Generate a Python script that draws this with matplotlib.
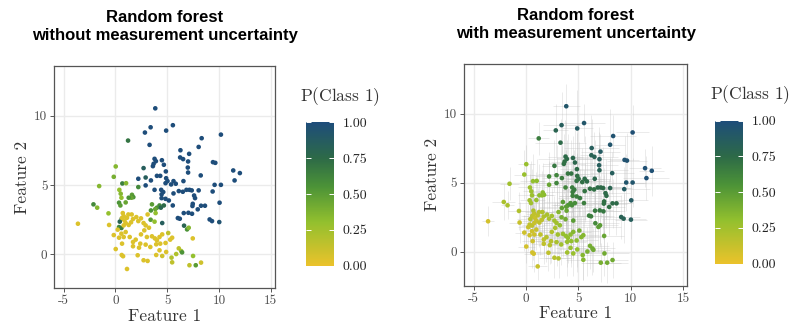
import matplotlib
matplotlib.use("Agg")
from matplotlib import pyplot as plt
from matplotlib.colors import LinearSegmentedColormap, Normalize
import matplotlib.cm as cm
import numpy as np

plt.rcParams['font.family'] = ['cmr10', 'DejaVu Serif']
plt.rcParams['axes.unicode_minus'] = False
plt.rcParams['mathtext.fontset'] = 'cm'

# point positions (same for both panels)
feat1 = [3.85, 3.40, 2.85, 5.55, 4.90, 3.30, 1.22, 10.19, 8.33, 8.04,
         6.28, 7.12, 6.25, 6.54, 3.78, 3.91, 3.69, 3.62, 4.49, 4.68,
         2.72, 7.02, 6.99, 7.02, 9.42, 9.65, 11.38, 12.02, 11.51, 4.87,
         2.92, 2.21, 4.01, 4.33, 4.90, 5.03, 4.84, 5.61, 5.83, 5.38,
         3.43, 2.92, 6.57, 8.24, 9.58, 10.19, 6.86, 7.15, 7.37, 6.51,
         6.12, 3.78, 4.42, 4.62, 4.46, 5.61, 7.60, 7.69, 8.04, 9.39,
         4.84, 5.16, 4.46, 5.54, 7.47, 7.44, 7.95, 8.27, 8.65, 10.06,
         6.03, 6.22, 6.60, 7.05, 9.10, 9.33, 10.03, 6.63, 4.52, 7.40,
         4.26, 4.01, 4.39, 3.53, 3.85, 4.68, 3.43,
         0.03, -0.16, 0.67, 1.03, -1.57, 0.38, 0.51, 0.58, 1.60, 1.73, 1.54, 1.28, 2.21,
         -2.12, -1.76, 0.35, 0.48, 0.99, -0.67, 0.61, 0.42, 0.35, 0.58, 3.40, 3.78, 3.88,
         6.92, 7.08, 7.47, 5.48, 5.29,
         -3.62, -0.61, 0.71, 0.80, 0.64, 0.87, 0.99, 0.80, 1.28, 1.51, 1.12, 1.25, 1.57,
         1.70, 2.02, 2.21, 2.47, 2.72, 2.92, 3.24, 3.11,
         -0.16, 0.58, 0.80, 0.99, 0.35, 0.22, 1.38, 1.70, 1.96, 2.47, 2.79, 3.04, 3.53,
         3.81, 4.01, 4.26, 4.52, 5.10,
         0.03, 0.64, 0.61, 0.74, 1.70, 2.40, 2.28, 2.92, 3.37, 3.94, 4.33, 4.84, 4.26, 4.90,
         2.15, 2.72, 3.11, 3.94, 4.52, 1.12, 5.42, 5.48, 6.12, 6.35, 6.44, 7.15, 7.76,
         8.27, 7.50, 5.87]
feat2 = [10.55, 9.18, 8.80, 9.33, 8.94, 7.91, 8.22, 8.65, 8.39, 7.76,
         7.52, 7.26, 7.00, 6.88, 6.90, 6.73, 6.54, 6.37, 6.80, 6.47,
         6.23, 6.71, 6.27, 5.91, 6.66, 6.61, 6.06, 5.87, 5.34, 5.99,
         5.55, 5.46, 5.67, 5.67, 5.50, 5.29, 5.14, 5.29, 5.10, 5.05,
         5.34, 4.98, 5.29, 5.70, 5.02, 5.02, 4.66, 4.66, 4.62, 4.52,
         4.57, 4.66, 4.66, 4.50, 4.33, 4.40, 4.25, 4.06, 4.62, 4.54,
         4.01, 3.89, 4.06, 3.53, 3.65, 3.49, 3.25, 3.51, 3.51, 3.73,
         2.62, 2.57, 2.98, 3.00, 2.52, 2.40, 2.33, 2.07, 2.26, 2.93,
         3.53, 3.37, 3.37, 3.61, 3.27, 3.53, 3.17,
         6.35, 5.60, 5.12, 5.14, 4.93, 4.66, 4.38, 4.09, 4.30, 4.13, 4.09, 4.09, 4.86,
         3.61, 3.37, 3.73, 3.53, 3.75, 2.96, 2.57, 2.36, 1.97, 1.90, 2.50, 2.36, 2.98,
         1.80, 1.92, 1.15, 1.20, 1.06,
         2.21, 2.12, 2.98, 2.76, 2.62, 2.45, 2.26, 2.09, 2.12, 2.31, 2.64, 2.88, 2.88,
         2.55, 2.69, 2.40, 2.60, 2.26, 2.09, 1.92, 2.88,
         1.39, 1.49, 1.25, 1.61, 1.20, 1.78, 1.25, 0.89, 1.06, 1.44, 1.73, 1.25, 1.30,
         1.15, 1.01, 1.25, 1.44, 1.54,
         0.38, 0.77, -0.05, -0.14, 0.58, 0.77, 0.48, 0.70, 0.53, 0.72, 0.77, 0.82, 0.29, 0.17,
         -0.07, -0.43, -0.48, -0.05, -0.12, -1.06, -0.24, -0.58, 0.43, 0.24, 0.14, -0.79, -0.79,
         -0.60, -0.12, 0.02]

# P(Class 1) without uncertainty
p_plain = [1, 1, 1, 1, 1, 1, 0.7, 1, 1, 1,
           1, 1, 1, 1, 1, 1, 1, 1, 1, 1,
           0.85, 1, 1, 1, 1, 1, 1, 1, 1, 1,
           0.85, 1, 1, 1, 1, 1, 1, 1, 1, 1,
           1, 1, 1, 1, 1, 1, 1, 1, 1, 1,
           1, 1, 1, 1, 1, 1, 1, 1, 1, 1,
           1, 1, 1, 1, 1, 1, 1, 1, 1, 1,
           1, 1, 1, 1, 1, 1, 0.95, 0.8, 0.85, 1,
           0.6, 0.55, 0.8, 0.5, 0.45, 0.75, 0.55,
           0.35, 0.4, 0.65, 0.35, 0.35, 0.3, 0.35, 0.3, 0.5, 0.55, 0.45, 0.55, 0.6,
           0.6, 0.35, 0.55, 0.5, 0.45, 0.3, 0.75, 0.8, 0.6, 0.65, 0.5, 0.3, 0.3,
           0.55, 0.35, 0.05, 0.05, 0.05,
           0.05, 0.05, 0.05, 0.05, 0.05, 0.05, 0.05, 0.05, 0.05, 0.05, 0.05, 0.05, 0.05,
           0.05, 0.05, 0.05, 0.05, 0.05, 0.05, 0.05, 0.05,
           0.05, 0.05, 0.05, 0.05, 0.05, 0.05, 0.05, 0.05, 0.05, 0.05, 0.05, 0.05, 0.05,
           0.05, 0.05, 0.05, 0.05, 0.15,
           0.05, 0.05, 0.05, 0.05, 0.05, 0.05, 0.05, 0.05, 0.05, 0.05, 0.05, 0.05, 0.05, 0.05,
           0.05, 0.05, 0.05, 0.05, 0.1, 0.05, 0.2, 0.15, 0.15, 0.25, 0.55, 0.15, 0.5,
           0.1, 0.3, 0.2]

# P(Class 1) with uncertainty
p_unc = [0.92, 0.85, 0.8, 0.92, 0.88, 0.75, 0.65, 0.97, 0.95, 0.93,
         0.85, 0.88, 0.82, 0.82, 0.75, 0.75, 0.73, 0.72, 0.78, 0.78,
         0.68, 0.85, 0.85, 0.82, 0.95, 0.95, 0.97, 0.97, 0.97, 0.75,
         0.62, 0.6, 0.68, 0.7, 0.72, 0.72, 0.7, 0.75, 0.75, 0.73,
         0.65, 0.62, 0.78, 0.85, 0.93, 0.93, 0.75, 0.75, 0.75, 0.72,
         0.72, 0.62, 0.65, 0.67, 0.66, 0.7, 0.75, 0.75, 0.8, 0.88,
         0.65, 0.67, 0.64, 0.65, 0.72, 0.72, 0.72, 0.75, 0.75, 0.88,
         0.65, 0.65, 0.67, 0.68, 0.82, 0.82, 0.85, 0.6, 0.5, 0.68,
         0.55, 0.55, 0.58, 0.5, 0.5, 0.58, 0.48,
         0.28, 0.28, 0.3, 0.32, 0.25, 0.27, 0.27, 0.27, 0.33, 0.33, 0.32, 0.32, 0.45,
         0.22, 0.22, 0.25, 0.25, 0.28, 0.2, 0.18, 0.18, 0.15, 0.15, 0.4, 0.42, 0.45,
         0.5, 0.5, 0.45, 0.35, 0.35,
         0.08, 0.12, 0.2, 0.15, 0.15, 0.12, 0.12, 0.12, 0.15, 0.15, 0.15, 0.18, 0.2,
         0.2, 0.22, 0.22, 0.25, 0.25, 0.25, 0.3, 0.35,
         0.1, 0.1, 0.1, 0.12, 0.1, 0.12, 0.15, 0.15, 0.18, 0.2, 0.22, 0.25, 0.28,
         0.3, 0.3, 0.32, 0.35, 0.4,
         0.08, 0.1, 0.08, 0.08, 0.15, 0.18, 0.18, 0.22, 0.25, 0.28, 0.3, 0.32, 0.28, 0.3,
         0.15, 0.18, 0.2, 0.25, 0.28, 0.12, 0.35, 0.35, 0.4, 0.42, 0.42, 0.4, 0.42,
         0.42, 0.42, 0.38]

# measurement uncertainty (half-widths)
err1 = [1.3, 1.8, 1.2, 2.0, 1.5, 2.4, 1.0, 1.6, 2.2, 1.4,
        2.6, 1.9, 1.1, 2.3, 1.7, 2.8, 1.3, 2.0, 1.6, 2.5,
        1.2, 2.1, 1.8, 2.7, 1.4, 1.9, 1.5, 1.2, 2.2, 1.6,
        2.4, 1.3, 2.9, 1.7, 2.0, 1.1, 2.5, 1.8, 2.3, 1.4,
        1.9, 2.6, 1.5, 2.1, 1.7, 1.3, 2.4, 1.9, 2.8, 1.6,
        2.2, 1.5, 2.7, 1.2, 2.0, 1.8, 2.3, 1.4, 1.9, 2.5,
        1.7, 2.1, 1.3, 2.6, 1.8, 2.2, 1.5, 2.0, 1.4, 1.6,
        2.4, 1.7, 2.9, 1.3, 1.8, 2.1, 1.5, 2.3, 1.9, 1.6,
        2.5, 1.4, 2.0, 1.8, 2.6, 1.2, 2.2,
        0.8, 1.0, 1.2, 0.7, 0.9, 1.1, 0.8, 1.3, 1.0, 0.9, 1.2, 0.8, 1.4,
        1.1, 0.6, 0.9, 1.2, 0.8, 1.0, 0.9, 1.3, 0.7, 1.1, 1.6, 2.0, 1.4,
        2.2, 1.7, 1.9, 1.5, 2.1,
        0.6, 1.0, 1.3, 0.8, 1.1, 0.9, 1.4, 0.7, 1.2, 1.0, 0.8, 1.3, 1.1,
        1.5, 1.2, 0.9, 1.6, 1.3, 1.1, 1.7, 1.4,
        0.9, 1.1, 0.8, 1.2, 0.7, 1.0, 1.3, 0.9, 1.4, 1.2, 1.6, 1.1, 1.8,
        1.5, 2.0, 1.3, 1.7, 1.9,
        0.8, 1.0, 0.7, 0.9, 1.2, 1.4, 1.1, 1.6, 1.3, 1.8, 1.5, 2.0, 1.4, 1.7,
        1.2, 1.5, 1.3, 1.9, 1.6, 0.9, 2.1, 1.7, 1.8, 2.2, 1.6, 1.9, 2.0,
        1.5, 2.3, 1.8]
err2 = [1.6, 2.4, 1.9, 1.4, 2.8, 1.7, 1.2, 2.0, 1.5, 2.6,
        2.1, 1.3, 2.9, 1.8, 2.5, 1.4, 3.0, 2.2, 1.6, 2.7,
        1.9, 2.3, 1.5, 2.8, 1.7, 2.0, 1.4, 1.8, 1.6, 2.6,
        2.2, 1.8, 2.9, 2.4, 1.6, 2.7, 2.0, 3.1, 1.9, 2.5,
        2.3, 1.7, 2.8, 1.5, 2.1, 1.8, 2.6, 2.2, 3.0, 1.9,
        2.4, 2.7, 1.8, 2.9, 2.3, 2.0, 2.5, 1.7, 2.2, 1.6,
        2.8, 2.1, 3.0, 2.4, 1.9, 2.6, 2.0, 1.8, 2.3, 1.5,
        2.2, 2.7, 1.9, 2.5, 1.6, 1.8, 1.4, 2.1, 2.6, 2.0,
        2.4, 2.9, 2.2, 2.7, 2.0, 2.5, 2.3,
        1.4, 1.8, 2.0, 1.6, 1.2, 1.7, 2.2, 1.9, 2.1, 1.5, 1.8, 2.3, 1.7,
        1.3, 1.0, 1.9, 1.6, 2.0, 1.4, 1.7, 1.5, 1.3, 1.8, 2.2, 1.9, 2.4,
        1.8, 1.6, 1.4, 1.9, 1.5,
        1.1, 1.5, 1.8, 1.6, 1.9, 1.4, 1.7, 1.3, 1.8, 1.6, 2.0, 1.5, 1.9,
        1.7, 2.1, 1.6, 2.0, 1.8, 1.5, 1.9, 2.2,
        1.3, 1.6, 1.2, 1.5, 1.4, 1.7, 1.5, 1.3, 1.8, 1.6, 1.9, 1.4, 1.7,
        1.5, 1.8, 1.6, 2.0, 1.7,
        1.2, 1.4, 1.1, 1.3, 1.5, 1.6, 1.4, 1.7, 1.5, 1.8, 1.6, 1.9, 1.4, 1.6,
        1.3, 1.5, 1.4, 1.7, 1.6, 1.0, 1.8, 1.5, 1.7, 1.9, 1.6, 1.4, 1.5,
        1.3, 1.6, 1.8]

cmap = LinearSegmentedColormap.from_list(
    'pclass', [(0.0, '#EAC22B'), (0.3, '#93C02E'), (0.55, '#4C9337'),
               (0.75, '#2D6A47'), (1.0, '#1E4D7A')])
norm = Normalize(0, 1)

fig = plt.figure(figsize=(7.99, 3.29), dpi=100)

def panel(rect, cbrect, title, p, witherr):
    ax = fig.add_axes(rect)
    ax.set_xlim(-5.9, 15.4)
    ax.set_ylim(-2.45, 13.6)
    ax.set_xticks([-5, 0, 5, 10, 15])
    ax.set_yticks([0, 5, 10])
    ax.grid(True, color='#EBEBEB', lw=1.0)
    ax.set_axisbelow(True)
    for s in ax.spines.values():
        s.set_color('#555555')
        s.set_linewidth(0.9)
    ax.tick_params(length=3, width=0.7, color='#555555', labelcolor='#4D4D4D',
                   labelsize=9.5, pad=2)
    if witherr:
        ax.errorbar(feat1, feat2, xerr=err1, yerr=err2, fmt='none',
                    ecolor='#BDBDBD', elinewidth=0.6, alpha=0.35, zorder=2)
    ax.scatter(feat1, feat2, c=p, cmap=cmap, norm=norm, s=11, linewidths=0,
               zorder=3)
    ax.set_xlabel('Feature 1', fontsize=12.5, color='#333333', labelpad=1)
    ax.set_ylabel('Feature 2', fontsize=12.5, color='#333333', labelpad=3)
    ax.set_title(title, fontsize=12, fontweight='bold', family='Liberation Sans',
                 pad=19, linespacing=1.2)
    cax = fig.add_axes(cbrect)
    cb = fig.colorbar(cm.ScalarMappable(norm=norm, cmap=cmap), cax=cax)
    cb.outline.set_visible(False)
    cb.set_ticks([0, 0.25, 0.5, 0.75, 1.0])
    cb.set_ticklabels(['0.00', '0.25', '0.50', '0.75', '1.00'])
    cax.tick_params(direction='in', length=3.5, width=0.7, color='white',
                    left=True, right=True, labelsize=10, labelcolor='#222222', pad=6)
    cax.text(-0.2, 1.1, r'P$($Class 1$)$', transform=cax.transAxes,
             fontsize=12.5, color='#333333', ha='left', va='bottom')
    return ax

panel([0.068, 0.124, 0.276, 0.675], [0.383, 0.193, 0.035, 0.435],
      'Random forest\nwithout measurement uncertainty', p_plain, False)
panel([0.581, 0.132, 0.279, 0.673], [0.895, 0.199, 0.035, 0.434],
      'Random forest\nwith measurement uncertainty', p_unc, True)

fig.savefig('out.png', dpi=100)
